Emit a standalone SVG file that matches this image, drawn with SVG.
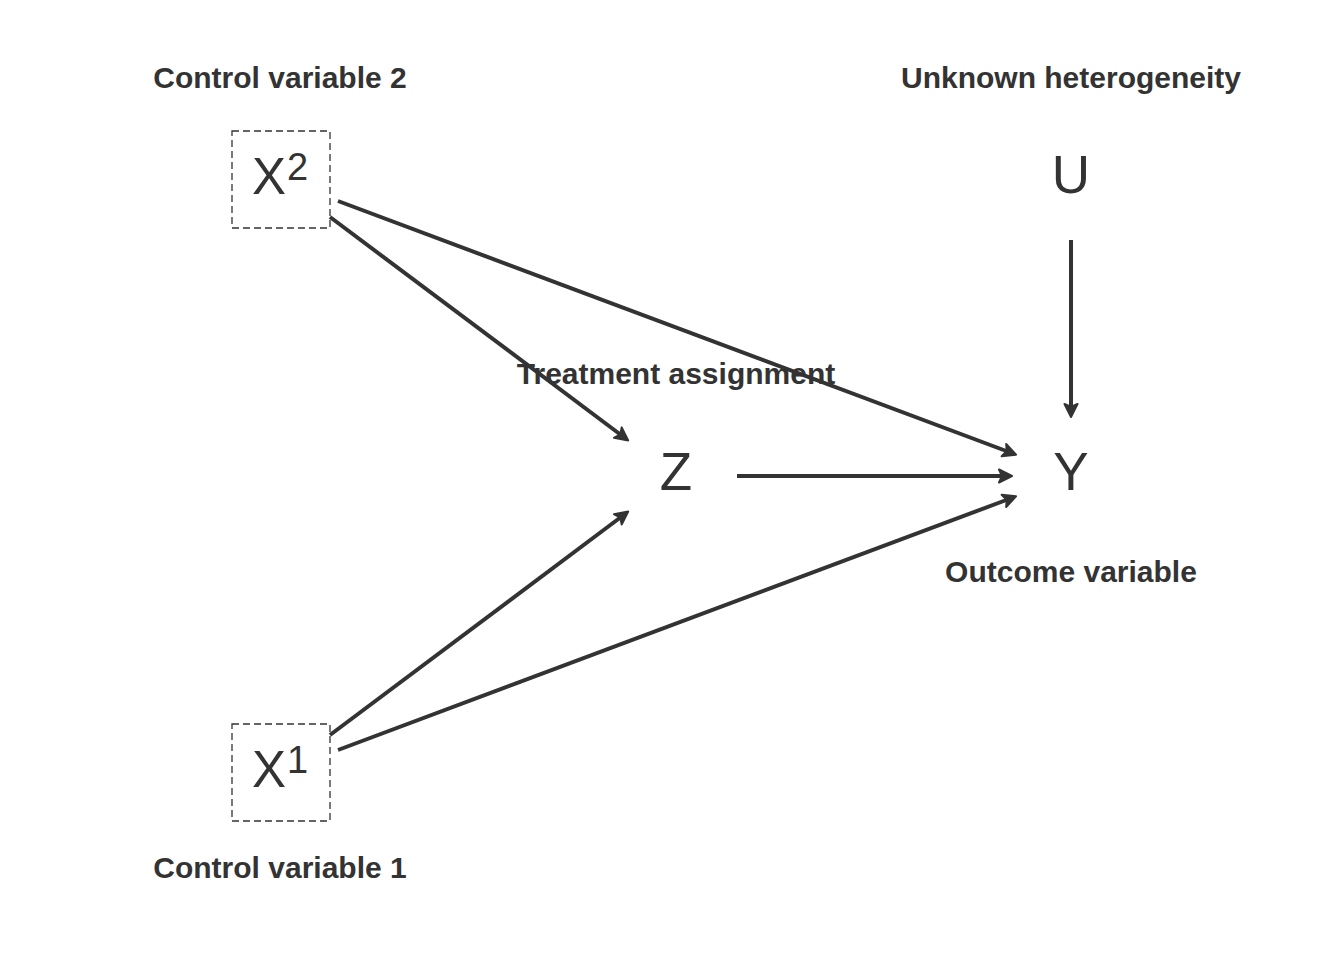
<svg xmlns="http://www.w3.org/2000/svg" xmlns:xlink="http://www.w3.org/1999/xlink" width="1344" height="960" viewBox="0 0 1344 960">
<style>
.lbl{font-family:"Liberation Sans",Arial,sans-serif;font-weight:bold;font-size:30px;fill:#333;text-anchor:middle}
.big{font-family:"Liberation Sans",Arial,sans-serif;font-size:53px;fill:#333;text-anchor:middle}
.bx{font-family:"Liberation Sans",Arial,sans-serif;font-size:51px;fill:#333}
.sup{font-family:"Liberation Sans",Arial,sans-serif;font-size:38px;fill:#333}
.box{fill:none;stroke:#333;stroke-width:1.3;stroke-dasharray:7 4}
.edge{fill:none;stroke:#333;stroke-width:4}
.head{fill:#333;stroke:#333;stroke-width:2;stroke-linejoin:round}
</style>
<defs>
<path id="ah" class="head" d="M-1,0 L-14,-6.5 L-11,0 L-14,6.5 Z"/>
</defs>
<rect width="1344" height="960" fill="#fff"/>
<g id="connectors">
<line class="edge" x1="338" y1="201" x2="1007.6" y2="451.5"/>
<use xlink:href="#ah" transform="translate(1017,455) rotate(20.51)"/>
<line class="edge" x1="330" y1="217" x2="621" y2="435"/>
<use xlink:href="#ah" transform="translate(629,441) rotate(36.84)"/>
<line class="edge" x1="330" y1="735" x2="621" y2="517"/>
<use xlink:href="#ah" transform="translate(629,511) rotate(-36.84)"/>
<line class="edge" x1="338" y1="750" x2="1007.6" y2="499.5"/>
<use xlink:href="#ah" transform="translate(1017,496) rotate(-20.51)"/>
<line class="edge" x1="737" y1="476" x2="1003" y2="476"/>
<use xlink:href="#ah" transform="translate(1013,476)"/>
<line class="edge" x1="1071" y1="240" x2="1071" y2="408"/>
<use xlink:href="#ah" transform="translate(1071,418) rotate(90)"/>
</g>
<g id="node-x2">
<text class="lbl" x="280" y="88">Control variable 2</text>
<rect class="box" x="232" y="131" width="98" height="97"/>
<text x="252" y="194" class="bx">X</text>
<text x="287" y="180" class="sup">2</text>
</g>
<g id="node-x1">
<rect class="box" x="232" y="724" width="98" height="97"/>
<text x="252" y="787" class="bx">X</text>
<text x="287" y="773" class="sup">1</text>
<text class="lbl" x="280" y="878">Control variable 1</text>
</g>
<g id="node-u">
<text class="lbl" x="1071" y="88">Unknown heterogeneity</text>
<text class="big" x="1071" y="193">U</text>
</g>
<g id="node-z">
<text class="big" x="676" y="490">Z</text>
<text class="lbl" x="676" y="384">Treatment assignment</text>
</g>
<g id="node-y">
<text class="big" x="1071" y="490">Y</text>
<text class="lbl" x="1071" y="582">Outcome variable</text>
</g>
</svg>
